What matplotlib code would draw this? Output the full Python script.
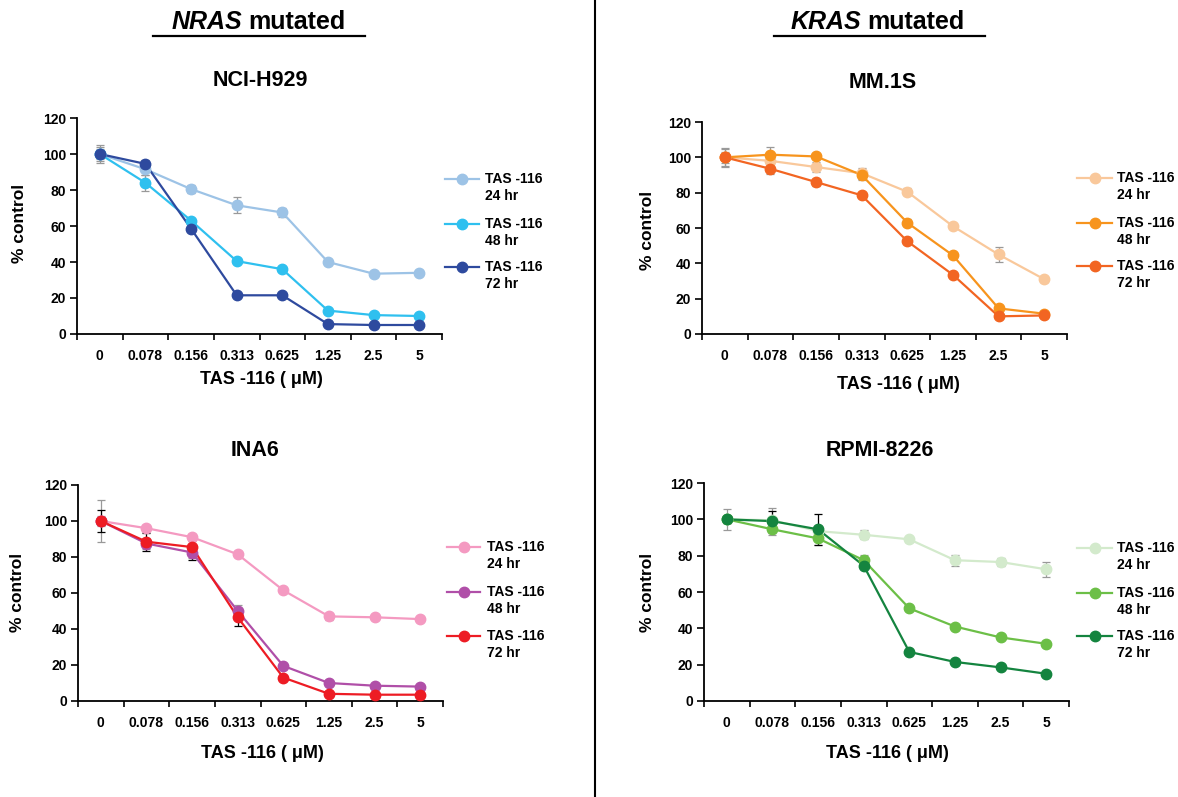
import matplotlib.pyplot as plt
from matplotlib.lines import Line2D
import numpy as np

plt.rcParams['font.family'] = ['Liberation Sans', 'DejaVu Sans']
plt.rcParams['font.weight'] = 'bold'

W, H = 1178, 797

doses = ["0", "0.078", "0.156", "0.313", "0.625", "1.25", "2.5", "5"]
times = ["24 hr", "48 hr", "72 hr"]

# % control
h929_24 = [100, 91.5, 80.5, 71.5, 67.5, 40, 33.5, 34]
h929_48 = [100, 84, 63, 40.5, 36, 13, 10.5, 10]
h929_72 = [100, 94.5, 58.5, 21.5, 21.5, 5.5, 5, 5]
h929_err = [[5, 3, 2, 4.5, 2.5, 1.5, 1, 1.5],
            [4, 4.5, 1, 1, 1, 1, 1, 1],
            [3, 2, 1, 1, 1, 1, 1, 1]]

mm1s_24 = [100, 98, 94.5, 91, 80.5, 61, 45, 31]
mm1s_48 = [100, 101.5, 100.5, 90, 63, 44.5, 14.5, 11.5]
mm1s_72 = [100, 93.5, 86, 78.5, 52.5, 33.5, 10, 10.5]
mm1s_err = [[5.5, 3, 3, 3, 2, 1, 4.5, 1.5],
            [5, 4.5, 1, 3, 2, 1, 1, 1],
            [3, 3, 2, 1.5, 1.5, 1, 1, 1]]

ina6_24 = [100, 96, 91, 81.5, 61.5, 47, 46.5, 45.5]
ina6_48 = [100, 87.5, 82.5, 50, 19.5, 10, 8.5, 8]
ina6_72 = [100, 88.5, 85.5, 46.5, 13, 4, 3.5, 3.5]
ina6_err = [[11.5, 2, 2, 1, 1, 2, 1, 1],
            [3, 3, 3, 3.5, 1, 1, 1, 1],
            [6.3, 5, 7, 5, 1, 1, 1, 1]]

rpmi_24 = [100, 99.5, 93.5, 91.5, 89, 77.5, 76.5, 72.5]
rpmi_48 = [100, 94.5, 89.5, 77.5, 51, 41, 35, 31.5]
rpmi_72 = [100, 99, 94.5, 74.5, 27, 21.5, 18.5, 15]
rpmi_err = [[5.7, 7, 3, 2.5, 1.5, 3, 2, 4],
            [2, 3, 3.5, 3, 1, 1, 1, 1],
            [2, 5.5, 8.5, 1.5, 1, 1, 1, 1]]

panels = [
    dict(title="NCI-H929", data=[h929_24, h929_48, h929_72], err=h929_err,
         colors=["#9dc3e6", "#2fc0ef", "#2e4a9e"], ecol=["#999999", "#999999", "#999999"],
         box=(77, 118, 442, 334), title_xy=(260, 81), xl=(261, 380), yl=(19, 223),
         leg=(445, 479, 485, [179, 224, 267])),
    dict(title="MM.1S", data=[mm1s_24, mm1s_48, mm1s_72], err=mm1s_err,
         colors=["#f9c89b", "#f7941d", "#f26522"], ecol=["#999999", "#999999", "#999999"],
         box=(702, 122, 1067, 334), title_xy=(883, 82), xl=(898, 385), yl=(647, 230),
         leg=(1077, 1112, 1117, [178, 223, 266])),
    dict(title="INA6", data=[ina6_24, ina6_48, ina6_72], err=ina6_err,
         colors=["#f49ac1", "#b04fa8", "#ed1c24"], ecol=["#999999", "#999999", "#000000"],
         box=(78, 485, 443, 701), title_xy=(255, 450), xl=(262, 754), yl=(18, 592),
         leg=(447, 480, 487, [547, 592, 636])),
    dict(title="RPMI-8226", data=[rpmi_24, rpmi_48, rpmi_72], err=rpmi_err,
         colors=["#d3eacc", "#6cbf47", "#14843f"], ecol=["#999999", "#999999", "#000000"],
         box=(704, 483, 1069, 701), title_xy=(880, 450), xl=(887, 754), yl=(647, 592),
         leg=(1077, 1112, 1117, [548, 593, 636])),
]


def fx(x):
    return x / W


def fy(y):
    return 1 - y / H


fig = plt.figure(figsize=(W / 100, H / 100), dpi=100)
x = np.arange(len(doses))

for p in panels:
    l, t, r, b = p["box"]
    ax = fig.add_axes([fx(l), fy(b), (r - l) / W, (b - t) / H])
    for vals, err, c, ec in zip(p["data"], p["err"], p["colors"], p["ecol"]):
        ax.errorbar(x, vals, yerr=err, fmt="none", ecolor=ec, elinewidth=0.9,
                    capsize=3, capthick=0.9, zorder=2)
        ax.plot(x, vals, color=c, lw=1.6, zorder=3)
        ax.plot(x, vals, color=c, lw=0, marker="o", ms=7.5, zorder=4)
    ax.set_xlim(-0.5, len(doses) - 0.5)
    ax.set_ylim(0, 120)
    ax.set_yticks(np.arange(0, 121, 20))
    ax.set_xticks(x)
    ax.set_xticklabels(doses)
    ax.set_xticks(np.arange(-0.5, len(doses)), minor=True)
    ax.tick_params(axis="x", which="major", length=0, pad=11, labelsize=10)
    ax.tick_params(axis="x", which="minor", length=4, width=1.2, direction="out")
    ax.tick_params(axis="y", length=5, width=1.2, direction="out", pad=3, labelsize=10)
    for s in ["top", "right"]:
        ax.spines[s].set_visible(False)
    for s in ["left", "bottom"]:
        ax.spines[s].set_linewidth(1.3)
    for lab in ax.get_xticklabels() + ax.get_yticklabels():
        lab.set_fontweight("bold")

    pw, ph = r - l, b - t
    ax.set_xlabel("TAS -116 ( \u03bcM)", fontsize=13, fontweight="bold", va="center")
    ax.xaxis.set_label_coords((p["xl"][0] - l) / pw, (b - p["xl"][1]) / ph)
    ax.set_ylabel("% control", fontsize=12.5, fontweight="bold", va="center")
    ax.yaxis.set_label_coords((p["yl"][0] - l) / pw, (b - p["yl"][1]) / ph)

    fig.text(fx(p["title_xy"][0]), fy(p["title_xy"][1]), p["title"], fontsize=15.5,
             fontweight="bold", ha="center", va="center")

    x0, x1, xt, ys = p["leg"]
    for c, tm, yy in zip(p["colors"], times, ys):
        fig.add_artist(Line2D([fx(x0), fx(x1)], [fy(yy), fy(yy)], color=c, lw=1.6))
        fig.add_artist(Line2D([fx((x0 + x1) / 2)], [fy(yy)], color=c, marker="o", ms=7.5))
        fig.text(fx(xt), fy(yy), "TAS -116", fontsize=10, fontweight="bold", va="center")
        fig.text(fx(xt), fy(yy + 17), tm, fontsize=10, fontweight="bold", va="center")

# column headers: italic gene name + "mutated", underlined
for name, nx, mx, ux0, ux1 in [("NRAS", 242, 248, 153, 365), ("KRAS", 861, 867, 774, 985)]:
    fig.text(fx(nx), fy(22), name, fontsize=18, fontweight="bold", style="italic",
             ha="right", va="center")
    fig.text(fx(mx), fy(22), "mutated", fontsize=18, fontweight="bold",
             ha="left", va="center")
    fig.add_artist(Line2D([fx(ux0), fx(ux1)], [fy(36), fy(36)], color="black", lw=1.6))

fig.add_artist(Line2D([fx(595), fx(595)], [0, 1], color="black", lw=1.5))

fig.savefig("out.png", dpi=100)
